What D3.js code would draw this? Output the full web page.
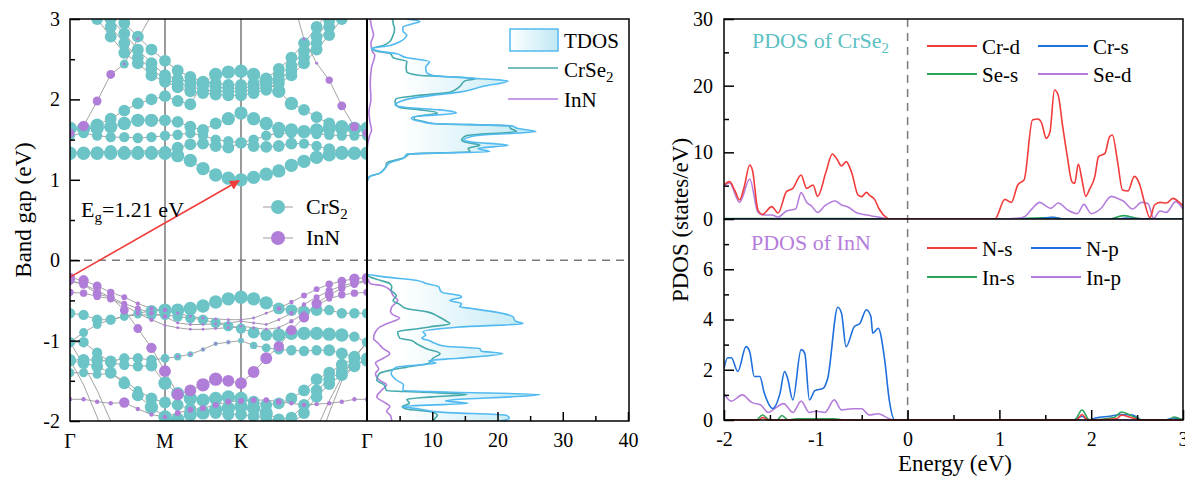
<!DOCTYPE html>
<html>
<head>
<meta charset="utf-8">
<script src="https://cdn.jsdelivr.net/npm/d3@7"></script>
<style>
  body { margin: 0; background: #fff; }
  text { font-family: "Liberation Serif", "Times New Roman", serif; }
</style>
</head>
<body>
<svg id="chart" width="1185" height="478"></svg>
<script>
// ---- band structure data ----
var kLabels = ["Γ", "M", "K", "Γ"];
var kNodes = [0, 7, 13, 23];   // k-point index of each high-symmetry point

// energies (eV) of each band at the 24 k-points
var bandEnergies = [
  [1.33,1.33,1.33,1.33,1.33,1.33,1.33,1.33,1.30,1.24,1.14,1.06,1.02,1.00,1.03,1.07,1.11,1.18,1.23,1.28,1.31,1.33,1.33,1.33],
  [1.33,1.33,1.34,1.36,1.36,1.36,1.36,1.36,1.40,1.44,1.45,1.42,1.40,1.46,1.42,1.41,1.42,1.45,1.45,1.42,1.38,1.35,1.33,1.33],
  [1.55,1.58,1.55,1.53,1.53,1.52,1.53,1.55,1.56,1.58,1.55,1.50,1.48,1.46,1.50,1.55,1.58,1.58,1.58,1.57,1.56,1.55,1.55,1.55],
  [1.64,1.64,1.64,1.66,1.70,1.74,1.74,1.74,1.72,1.66,1.62,1.70,1.76,1.83,1.76,1.70,1.64,1.62,1.60,1.62,1.64,1.64,1.64,1.64],
  [1.64,1.64,1.68,1.76,1.86,1.95,2.00,2.04,1.98,1.94,2.20,2.31,2.34,2.35,2.31,2.24,2.10,1.95,1.87,1.78,1.70,1.66,1.64,1.64],
  [3.40,3.20,3.00,2.78,2.58,2.45,2.30,2.22,2.15,2.10,2.08,2.06,2.05,2.05,2.08,2.12,2.20,2.30,2.45,2.62,2.80,3.00,3.20,3.40],
  [3.50,3.30,3.10,2.90,2.70,2.52,2.38,2.25,2.20,2.16,2.12,2.10,2.10,2.10,2.12,2.16,2.24,2.36,2.52,2.70,2.90,3.10,3.30,3.50],
  [3.60,3.40,3.20,3.00,2.82,2.62,2.45,2.30,2.25,2.22,2.18,2.15,2.14,2.14,2.16,2.20,2.30,2.42,2.60,2.78,2.98,3.20,3.40,3.60],
  [3.70,3.50,3.30,3.10,2.95,2.78,2.62,2.48,2.36,2.28,2.22,2.20,2.18,2.18,2.20,2.26,2.38,2.52,2.70,2.90,3.10,3.30,3.50,3.70],
  [1.58,1.67,1.98,2.31,2.44,2.75,3.05,3.30,3.50,3.50,3.50,3.50,3.50,3.50,3.50,3.50,3.50,3.30,2.75,2.45,2.24,1.92,1.66,1.58],
  [-0.22,-0.25,-0.32,-0.40,-0.46,-0.54,-0.60,-0.62,-0.66,-0.70,-0.72,-0.73,-0.74,-0.74,-0.72,-0.66,-0.60,-0.52,-0.44,-0.36,-0.30,-0.26,-0.23,-0.22],
  [-0.25,-0.30,-0.42,-0.46,-0.54,-0.60,-0.66,-0.70,-0.78,-0.80,-0.80,-0.79,-0.78,-0.76,-0.78,-0.80,-0.74,-0.66,-0.55,-0.46,-0.38,-0.32,-0.28,-0.25],
  [-0.40,-0.41,-0.45,-0.48,-0.56,-0.66,-0.74,-0.81,-0.84,-0.86,-0.86,-0.85,-0.84,-0.82,-0.84,-0.86,-0.84,-0.76,-0.66,-0.56,-0.48,-0.43,-0.41,-0.40],
  [-0.26,-0.30,-0.38,-0.46,-0.62,-0.85,-1.09,-1.38,-1.67,-1.62,-1.55,-1.48,-1.50,-1.53,-1.39,-1.22,-1.07,-0.87,-0.71,-0.54,-0.43,-0.35,-0.30,-0.26],
  [-0.66,-0.68,-0.74,-0.74,-0.70,-0.66,-0.63,-0.62,-0.62,-0.60,-0.57,-0.52,-0.48,-0.46,-0.48,-0.53,-0.60,-0.62,-0.64,-0.62,-0.62,-0.66,-0.66,-0.66],
  [-1.02,-0.90,-0.80,-0.74,-0.70,-0.68,-0.68,-0.68,-0.70,-0.72,-0.74,-0.78,-0.82,-0.85,-0.90,-0.93,-0.93,-0.91,-0.91,-0.91,-0.92,-0.93,-0.95,-1.02],
  [-1.24,-1.24,-1.24,-1.26,-1.22,-1.22,-1.24,-1.22,-1.20,-1.17,-1.11,-1.04,-1.02,-1.00,-1.06,-1.09,-1.11,-1.12,-1.13,-1.12,-1.12,-1.16,-1.20,-1.24],
  [-1.02,-1.02,-1.15,-1.28,-1.30,-1.32,-1.31,-1.53,-1.66,-1.72,-1.74,-1.72,-1.70,-1.72,-1.76,-1.80,-1.78,-1.72,-1.62,-1.48,-1.40,-1.30,-1.22,-1.02],
  [-1.25,-1.28,-1.32,-1.40,-1.53,-1.68,-1.83,-1.95,-1.98,-1.92,-1.90,-1.86,-1.84,-1.82,-1.84,-1.90,-1.98,-1.96,-1.80,-1.62,-1.48,-1.38,-1.30,-1.25],
  [-1.40,-1.40,-1.42,-1.41,-1.50,-1.62,-1.72,-1.77,-1.80,-1.85,-1.88,-1.90,-1.92,-1.92,-1.94,-1.96,-2.00,-2.04,-1.90,-1.70,-1.54,-1.43,-1.32,-1.22],
  [-1.73,-1.73,-1.76,-1.78,-1.77,-1.85,-1.92,-1.95,-1.90,-1.86,-1.84,-1.80,-1.76,-1.75,-1.74,-1.74,-1.76,-1.78,-1.80,-1.79,-1.78,-1.76,-1.73,-1.73],
  [-1.24,-1.55,-1.95,-2.40,-2.80,-3.00,-3.00,-3.00,-3.00,-3.00,-3.00,-3.00,-3.00,-3.00,-3.00,-3.00,-3.00,-3.00,-2.80,-2.35,-1.90,-1.50,-1.30,-1.24],
  [-1.02,-1.30,-1.62,-2.00,-2.40,-2.80,-3.00,-3.00,-3.00,-3.00,-3.00,-3.00,-3.00,-3.00,-3.00,-3.00,-3.00,-2.80,-2.45,-2.10,-1.75,-1.45,-1.20,-1.02]
];
// projected weights (0-9) on CrS2 and InN, one digit per k-point
var weightCrS2 = [
  "999999999999999999999999", "888877778888888888778888", "777777777777777777777777",
  "999999988888999999999999", "999888888899999999888999", "888888888888888888888888",
  "888888888888888888888888", "888888888888888888888888", "888888888888888888888888",
  "000060000000000000000000", "000000000000000000000000", "000000000000000000000000",
  "000000000000000000000000", "000000000000000000000000", "777766899999999988887777",
  "666655777777778899999976", "888877765433345677778888", "777777899999998888888887",
  "888888999999999988888888", "666666888888888888888888", "000000000000000000000000",
  "000000000000000000000000", "000000000000000000000000"
];
var weightInN = [
  "000000000000000000000000", "000000000000000000000000", "000000000000000000000000",
  "000000000000000000000000", "000000000000000000000000", "000000000000000000000000",
  "000000000000000000000000", "000000000000000000000000", "000000000000000000000000",
  "676622100000000001225666", "776543332222222233445677", "666544332222222223345566",
  "555543322222222223344555", "555566788899888877776555", "000000000000000000000000",
  "000000000000000000000000", "000000012222211000000000", "000000000000000000000000",
  "000000000000000000000000", "000000000000000000000000", "333373334444444443333333",
  "000000000000000000000000", "000000000000000000000000"
];
var gapStart = [0, -0.21];   // [k index, E] VBM at Γ
var gapEnd = [13, 1.00];     // CBM at K

// ---- DOS beside the bands: [energy, states] ----
var tdos = [[-2.0,20.5],[-1.97,21.8],[-1.93,21.4],[-1.89,11.2],[-1.85,8],[-1.82,5.4],[-1.78,15.5],[-1.75,12],[-1.73,14.2],[-1.70,22],[-1.67,26.5],[-1.64,12],[-1.62,5.5],[-1.55,5.6],[-1.49,4.5],[-1.41,3.7],[-1.36,4.0],[-1.33,4.5],[-1.28,10.6],[-1.25,9.5],[-1.22,14],[-1.16,20.8],[-1.13,17.5],[-1.10,17.3],[-1.07,12],[-1.04,10.6],[-1.00,9.5],[-0.97,8.4],[-0.93,9.0],[-0.89,8.6],[-0.85,11.5],[-0.83,14.2],[-0.79,23.9],[-0.76,22.8],[-0.70,22.3],[-0.64,19.3],[-0.60,16],[-0.58,14.2],[-0.54,14.5],[-0.50,12.7],[-0.46,14.5],[-0.44,14.2],[-0.40,11.5],[-0.37,11.2],[-0.33,11.0],[-0.29,9.1],[-0.25,7.5],[-0.21,3.0],[-0.17,0],
  [0.97,0],[1.04,0.4],[1.08,1.9],[1.12,2.5],[1.16,2.9],[1.21,3.5],[1.27,5.6],[1.32,6.1],[1.35,18.8],[1.39,17],[1.43,21.6],[1.47,16],[1.49,14.8],[1.55,16.8],[1.60,25.9],[1.64,23],[1.67,22.3],[1.70,10],[1.72,8.6],[1.76,6.8],[1.78,7.0],[1.83,13.7],[1.87,11.2],[1.90,6],[1.93,4.3],[1.97,5],[2.01,6.6],[2.05,10],[2.09,14.2],[2.16,17.7],[2.23,21.6],[2.26,16.8],[2.30,10],[2.34,9.1],[2.40,9.0],[2.47,9.6],[2.52,6],[2.57,4.4],[2.60,2],[2.63,0.7],[2.67,3.5],[2.72,5.1],[2.76,5.8],[2.80,6.1],[2.85,5.5],[2.90,5.5],[2.94,7],[2.97,8.1],[3.0,6]];
var dosCrSe2 = [[-2.0,10.1],[-1.96,10.5],[-1.93,10.8],[-1.89,10.1],[-1.85,6],[-1.82,5.4],[-1.78,6.5],[-1.73,6.1],[-1.70,10],[-1.67,15.3],[-1.64,8],[-1.62,3],[-1.55,2.6],[-1.49,1.5],[-1.41,1.9],[-1.37,3.5],[-1.33,6.1],[-1.28,9.5],[-1.22,10.1],[-1.16,11.2],[-1.10,9.1],[-1.04,7.6],[-1.00,6.8],[-0.97,5.0],[-0.89,4.7],[-0.85,8],[-0.83,9.6],[-0.79,12.7],[-0.75,12],[-0.70,10.9],[-0.64,9.1],[-0.60,6],[-0.55,5],[-0.50,4.0],[-0.44,4.5],[-0.37,3.7],[-0.33,3.8],[-0.29,3.5],[-0.25,2.0],[-0.21,0.5],[-0.17,0],
  [0.96,0],[1.04,0.4],[1.08,1.9],[1.12,2.5],[1.16,2.9],[1.21,3.0],[1.27,5.6],[1.32,6.6],[1.35,15.8],[1.39,15.5],[1.43,17.3],[1.47,15],[1.49,14.5],[1.55,15.3],[1.60,22.9],[1.64,22],[1.67,21.8],[1.70,10],[1.72,9],[1.76,7.2],[1.78,7.2],[1.83,10.8],[1.87,8.2],[1.90,5],[1.93,4.5],[1.97,4.3],[2.01,4.5],[2.05,8],[2.09,12.7],[2.16,14.2],[2.23,15],[2.26,16.8],[2.30,8],[2.34,6.1],[2.40,6.0],[2.47,6.1],[2.52,4],[2.57,3.6],[2.60,1.5],[2.63,0.7],[2.67,2.5],[2.72,3.5],[2.76,3.8],[2.80,4.0],[2.85,4.2],[2.90,4.2],[2.94,4.0],[2.97,4.0],[3.0,3.8]];
var dosInN = [[-2.0,3.8],[-1.93,3.6],[-1.88,3.0],[-1.82,3.5],[-1.76,2.5],[-1.70,1.5],[-1.62,2.2],[-1.55,3.0],[-1.49,1.9],[-1.41,1.3],[-1.35,1.8],[-1.28,1.3],[-1.22,2.5],[-1.16,3.5],[-1.10,2.5],[-1.04,1.8],[-0.97,1.0],[-0.89,1.3],[-0.83,2.0],[-0.79,3.0],[-0.72,5.0],[-0.68,4.0],[-0.64,3.6],[-0.58,3.8],[-0.50,4.7],[-0.44,4.0],[-0.37,3.5],[-0.32,2.5],[-0.29,0.5],[-0.25,0.2],[-0.20,0],
  [1.35,0],[1.55,0.4],[1.62,0.7],[1.70,0.5],[1.85,0.3],[2.0,0.6],[2.2,0.5],[2.4,0.7],[2.55,1.2],[2.6,0.8],[2.7,0.6],[2.8,1.0],[2.9,0.7],[3.0,0.5]];

// ---- PDOS, right panel: [energy, states/eV] ----
var pdosCrD = [[-2.0,5.1],[-1.94,5.6],[-1.88,4.2],[-1.83,2.85],[-1.78,4.8],[-1.72,8.1],[-1.69,7.3],[-1.63,1.35],[-1.58,0.7],[-1.48,1.85],[-1.41,0.9],[-1.32,4.1],[-1.25,4.6],[-1.16,6.6],[-1.10,4.6],[-1.03,5.1],[-0.98,3.4],[-0.89,7.0],[-0.82,9.75],[-0.77,9.0],[-0.72,7.95],[-0.67,8.6],[-0.61,7.0],[-0.54,3.6],[-0.50,3.35],[-0.45,4.0],[-0.41,3.5],[-0.36,2.95],[-0.31,1.5],[-0.23,0.2],[-0.2,0],
  [0.95,0],[1.06,2.95],[1.13,2.5],[1.20,5.1],[1.27,5.9],[1.36,14.85],[1.42,15],[1.46,14.4],[1.51,12.1],[1.55,13.0],[1.60,19.35],[1.64,18.6],[1.69,13.85],[1.74,9.35],[1.79,5.6],[1.82,5.35],[1.86,8.25],[1.90,5.85],[1.94,3.4],[1.98,4.4],[2.04,6.4],[2.08,9.35],[2.15,9.85],[2.20,12.35],[2.23,12.6],[2.29,8.35],[2.34,4.35],[2.40,4.2],[2.47,6.4],[2.53,5.1],[2.58,2.5],[2.64,0.2],[2.69,2.1],[2.75,2.5],[2.82,2.4],[2.89,3.1],[2.96,2.5],[3.0,2.0]];
var pdosCrS = [[-2,0],[1.4,0],[1.58,0.25],[1.7,0],[2.3,0],[2.38,0.15],[2.5,0],[3,0]];
var pdosSeS = [[-2,0.05],[-0.6,0.05],[-0.4,0],[1.0,0],[1.6,0.2],[1.7,0],[2.2,0],[2.35,0.5],[2.5,0.1],[2.6,0],[3,0]];
var pdosSeD = [[-2.0,5.0],[-1.94,5.4],[-1.83,2.5],[-1.72,6.0],[-1.63,1.0],[-1.58,0.6],[-1.48,0.6],[-1.41,0.3],[-1.32,1.2],[-1.22,1.5],[-1.16,3.95],[-1.10,2.5],[-1.05,2.0],[-0.98,1.0],[-0.90,2.0],[-0.79,2.7],[-0.72,2.1],[-0.65,1.8],[-0.55,0.9],[-0.40,0.5],[-0.25,0.1],[-0.2,0],
  [1.0,0],[1.2,0.1],[1.28,0.4],[1.36,1.6],[1.44,2.5],[1.50,2.0],[1.56,1.6],[1.64,2.4],[1.75,1.3],[1.85,0.8],[1.92,2.2],[2.0,0.8],[2.1,1.5],[2.22,3.4],[2.30,3.0],[2.35,2.7],[2.45,1.5],[2.55,2.5],[2.62,2.3],[2.68,0.1],[2.75,1.2],[2.82,1.0],[2.92,2.6],[3.0,1.5]];
var pdosNS = [[-2,0],[-1.62,0],[-1.58,0.1],[-1.52,0],[1.84,0],[1.9,0.22],[1.96,0],[2.28,0.05],[2.33,0.2],[2.45,0.08],[2.55,0],[3,0]];
var pdosNP = [[-2.0,2.06],[-1.96,2.48],[-1.92,2.48],[-1.85,1.93],[-1.76,2.92],[-1.72,2.72],[-1.67,1.73],[-1.61,1.73],[-1.56,1.06],[-1.47,0.46],[-1.39,1.06],[-1.34,1.93],[-1.31,1.7],[-1.25,0.8],[-1.16,2.8],[-1.12,2.65],[-1.07,0.8],[-1.01,1.17],[-0.92,1.26],[-0.87,1.66],[-0.76,4.49],[-0.72,4.25],[-0.67,2.92],[-0.58,3.72],[-0.52,3.84],[-0.45,4.39],[-0.40,4.12],[-0.38,3.45],[-0.32,3.65],[-0.25,2.4],[-0.20,0.8],[-0.14,0],
  [1.8,0],[1.9,0.15],[1.97,0],[2.05,0.08],[2.2,0.15],[2.33,0.22],[2.45,0.2],[2.55,0],[2.8,0],[2.9,0.08],[3.0,0]];
var pdosInS = [[-2,0],[-1.65,0],[-1.58,0.2],[-1.5,0],[-1.42,0],[-1.37,0.18],[-1.3,0],[-1.2,0.05],[-0.8,0.05],[-0.7,0],[1.82,0],[1.9,0.4],[1.98,0],[2.25,0.1],[2.33,0.32],[2.45,0.15],[2.55,0],[2.85,0],[2.9,0.12],[3,0]];
var pdosInP = [[-2.0,1.05],[-1.92,0.75],[-1.8,1.0],[-1.7,0.7],[-1.6,0.6],[-1.52,0.3],[-1.45,0.45],[-1.35,0.65],[-1.25,0.3],[-1.16,0.75],[-1.07,0.3],[-1.0,0.35],[-0.9,0.3],[-0.8,0.8],[-0.72,0.4],[-0.6,0.45],[-0.5,0.45],[-0.42,0.2],[-0.32,0.25],[-0.2,0.05],[-0.15,0],[3,0]];

var bandTicks = [-2, -1, 0, 1, 2, 3];
var dosTicks = [10, 20, 30, 40];
var energyTicks = [-2, -1, 0, 1, 2, 3];
var topTicks = [0, 10, 20, 30];
var botTicks = [0, 2, 4, 6];

var C_CYAN = "#6cc4c7", C_PURP = "#b07ed8", C_TEAL = "#46a9aa", C_BLUE = "#52baf0";
var C_RED = "#f23b3b", C_DBLUE = "#1f6fdc", C_GREEN = "#2ca35a", C_LAV = "#b57edc";
var FS = 22, FT = 20;   // label / tick font sizes

var svg = d3.select("#chart");
var defs = svg.append("defs");

// ================= left: bands + DOS =================
var L = {left: 70, mid: 367, right: 629, top: 19, bottom: 421};
var xk = d3.scaleLinear().domain(kNodes).range([70, 165, 241, 367]);
var yE = d3.scaleLinear().domain([-2, 3]).range([L.bottom, L.top]);
var xd = d3.scaleLinear().domain([0, 40]).range([L.mid, 628]);

defs.append("clipPath").attr("id", "clipBand").append("rect")
    .attr("x", L.left).attr("y", L.top).attr("width", L.mid - L.left).attr("height", L.bottom - L.top);
defs.append("clipPath").attr("id", "clipDos").append("rect")
    .attr("x", L.mid).attr("y", L.top).attr("width", L.right - L.mid).attr("height", L.bottom - L.top);

// high symmetry lines
svg.append("g").selectAll("line").data(kNodes.slice(1, 3)).enter().append("line")
    .attr("x1", function(d) { return xk(d); }).attr("x2", function(d) { return xk(d); })
    .attr("y1", L.top).attr("y2", L.bottom)
    .attr("stroke", "#9a9a9a").attr("stroke-width", 2);

var bands = bandEnergies.map(function(e, b) {
  return e.map(function(v, i) {
    return {k: i, e: v, c: +(weightCrS2[b][i] || 0), n: +(weightInN[b][i] || 0)};
  });
});

var gb = svg.append("g").attr("clip-path", "url(#clipBand)");
var bandLine = d3.line().x(function(d) { return xk(d.k); }).y(function(d) { return yE(d.e); });
gb.selectAll(".band").data(bands).enter().append("path")
    .attr("d", bandLine).attr("fill", "none").attr("stroke", "#999").attr("stroke-width", 0.9);

var pts = [].concat.apply([], bands);
gb.selectAll(".cr").data(pts.filter(function(d) { return d.c > 0; })).enter().append("circle")
    .attr("cx", function(d) { return xk(d.k); }).attr("cy", function(d) { return yE(d.e); })
    .attr("r", function(d) { return d.c * 0.74; }).attr("fill", C_CYAN);
gb.selectAll(".in").data(pts.filter(function(d) { return d.n > 0; })).enter().append("circle")
    .attr("cx", function(d) { return xk(d.k); }).attr("cy", function(d) { return yE(d.e); })
    .attr("r", function(d) { return d.n * 0.74; }).attr("fill", C_PURP);

// Fermi level
svg.append("line").attr("x1", L.left).attr("x2", L.right).attr("y1", yE(0)).attr("y2", yE(0))
    .attr("stroke", "#7a7a7a").attr("stroke-width", 1.5).attr("stroke-dasharray", "8,6");

// gap arrow
defs.append("marker").attr("id", "arr").attr("viewBox", "0 0 10 10").attr("refX", 9).attr("refY", 5)
    .attr("markerWidth", 10).attr("markerHeight", 10).attr("markerUnits", "userSpaceOnUse").attr("orient", "auto")
  .append("path").attr("d", "M0,0L10,5L0,10z").attr("fill", C_RED);
svg.append("line")
    .attr("x1", xk(gapStart[0])).attr("y1", yE(gapStart[1]))
    .attr("x2", xk(gapEnd[0]) - 2).attr("y2", yE(gapEnd[1]) + 1)
    .attr("stroke", C_RED).attr("stroke-width", 1.6).attr("marker-end", "url(#arr)");

var eg = svg.append("text").attr("x", 81).attr("y", 217).attr("font-size", FS);
eg.append("tspan").text("E");
eg.append("tspan").attr("font-size", 15).attr("dy", 5).text("g");
eg.append("tspan").attr("dy", -5).text("=1.21 eV");

// band legend
var bl = svg.append("g");
[["CrS", C_CYAN, 207], ["InN", C_PURP, 238]].forEach(function(r, i) {
  bl.append("line").attr("x1", 263).attr("x2", 293).attr("y1", r[2]).attr("y2", r[2])
      .attr("stroke", "#9c9c9c").attr("stroke-width", 1);
  bl.append("circle").attr("cx", 278).attr("cy", r[2]).attr("r", 7).attr("fill", r[1]);
  var t = bl.append("text").attr("x", 306).attr("y", r[2] + 7).attr("font-size", FS).text(r[0]);
  if (i == 0) t.append("tspan").attr("font-size", 15).attr("dy", 5).text("2");
});

// DOS gradient fill
var grad = defs.append("linearGradient").attr("id", "dosGrad").attr("gradientUnits", "userSpaceOnUse")
    .attr("x1", xd(5)).attr("x2", xd(26)).attr("y1", 0).attr("y2", 0);
grad.append("stop").attr("offset", "0%").attr("stop-color", "#ffffff");
grad.append("stop").attr("offset", "100%").attr("stop-color", "#bfe8f3");
var grad2 = defs.append("linearGradient").attr("id", "legGrad");
grad2.append("stop").attr("offset", "0%").attr("stop-color", "#ffffff");
grad2.append("stop").attr("offset", "100%").attr("stop-color", "#bfe8f3");

var gd = svg.append("g").attr("clip-path", "url(#clipDos)");
var dosArea = d3.area().curve(d3.curveMonotoneY)
    .y(function(d) { return yE(d[0]); }).x0(xd(0)).x1(function(d) { return xd(d[1]); });
var dosLine = d3.line().curve(d3.curveMonotoneY)
    .y(function(d) { return yE(d[0]); }).x(function(d) { return xd(d[1]); });
gd.append("path").datum(tdos).attr("d", dosArea).attr("fill", "url(#dosGrad)");
gd.append("path").datum(dosInN).attr("d", dosLine).attr("fill", "none").attr("stroke", C_LAV).attr("stroke-width", 1.6);
gd.append("path").datum(dosCrSe2).attr("d", dosLine).attr("fill", "none").attr("stroke", C_TEAL).attr("stroke-width", 1.6);
gd.append("path").datum(tdos).attr("d", dosLine).attr("fill", "none").attr("stroke", C_BLUE).attr("stroke-width", 1.6);

// DOS legend
var dl = svg.append("g");
dl.append("rect").attr("x", 510).attr("y", 29).attr("width", 48).attr("height", 22)
    .attr("fill", "url(#legGrad)").attr("stroke", C_BLUE).attr("stroke-width", 1.5);
dl.append("text").attr("x", 564).attr("y", 48).attr("font-size", FS - 1).text("TDOS");
dl.append("line").attr("x1", 508).attr("x2", 558).attr("y1", 68).attr("y2", 68).attr("stroke", C_TEAL).attr("stroke-width", 1.6);
var ct = dl.append("text").attr("x", 564).attr("y", 77).attr("font-size", FS - 1).text("CrSe");
ct.append("tspan").attr("font-size", 15).attr("dy", 5).text("2");
dl.append("line").attr("x1", 508).attr("x2", 558).attr("y1", 99).attr("y2", 99).attr("stroke", C_LAV).attr("stroke-width", 1.6);
dl.append("text").attr("x", 564).attr("y", 107).attr("font-size", FS - 1).text("InN");

// frame and axes of left panel
svg.append("rect").attr("x", L.left).attr("y", L.top).attr("width", L.right - L.left).attr("height", L.bottom - L.top)
    .attr("fill", "none").attr("stroke", "#000").attr("stroke-width", 1.5);
svg.append("line").attr("x1", L.mid).attr("x2", L.mid).attr("y1", L.top).attr("y2", L.bottom)
    .attr("stroke", "#000").attr("stroke-width", 2);

function styleAxis(g) {
  g.select(".domain").remove();
  g.selectAll("line").attr("stroke", "#000").attr("stroke-width", 1.5);
  g.selectAll("text").attr("font-size", FT).attr("fill", "#000")
      .attr("font-family", "'Liberation Serif','Times New Roman',serif");
}
var fmt = function(d) { return String(d); };

svg.append("g").attr("transform", "translate(" + L.left + ",0)")
    .call(d3.axisLeft(yE).tickValues(bandTicks).tickSize(-10).tickPadding(10).tickFormat(fmt)).call(styleAxis);
svg.append("g").attr("transform", "translate(" + L.left + ",0)")
    .call(d3.axisLeft(yE).tickValues([-1.5, -0.5, 0.5, 1.5, 2.5]).tickSize(-5).tickFormat("")).call(styleAxis);
svg.append("g").attr("transform", "translate(0," + L.bottom + ")")
    .call(d3.axisBottom(xd).tickValues(dosTicks).tickSize(-9).tickPadding(12).tickFormat(fmt)).call(styleAxis);
svg.append("g").attr("transform", "translate(0," + L.bottom + ")")
    .call(d3.axisBottom(xd).tickValues([5, 15, 25, 35]).tickSize(-5).tickFormat("")).call(styleAxis);

svg.append("g").selectAll("text").data(kNodes).enter().append("text")
    .attr("x", function(d) { return xk(d); }).attr("y", 448)
    .attr("text-anchor", "middle").attr("font-size", FT).text(function(d, i) { return kLabels[i]; });

svg.append("text").attr("transform", "translate(31,210) rotate(-90)")
    .attr("text-anchor", "middle").attr("font-size", 23).text("Band gap (eV)");

// ================= right: PDOS =================
var R = {left: 724, right: 1183, top: 19, mid: 219, bottom: 420};
var xe = d3.scaleLinear().domain([-2, 3]).range([R.left, R.right]);
var yTop = d3.scaleLinear().domain([0, 30]).range([R.mid, R.top]);
var yBot = d3.scaleLinear().domain([0, 8]).range([R.bottom, R.mid]);

defs.append("clipPath").attr("id", "clipTop").append("rect")
    .attr("x", R.left).attr("y", R.top - 1).attr("width", R.right - R.left).attr("height", R.mid - R.top + 1);
defs.append("clipPath").attr("id", "clipBot").append("rect")
    .attr("x", R.left).attr("y", R.mid).attr("width", R.right - R.left).attr("height", R.bottom - R.mid + 1);

svg.append("line").attr("x1", xe(0)).attr("x2", xe(0)).attr("y1", R.top).attr("y2", R.bottom)
    .attr("stroke", "#7a7a7a").attr("stroke-width", 1.5).attr("stroke-dasharray", "8,6");

function drawSeries(clip, yScale, list) {
  var g = svg.append("g").attr("clip-path", "url(#" + clip + ")");
  var line = d3.line().curve(d3.curveMonotoneX)
      .x(function(d) { return xe(d[0]); }).y(function(d) { return yScale(d[1]); });
  list.forEach(function(s) {
    g.append("path").datum(s[0]).attr("d", line).attr("fill", "none")
        .attr("stroke", s[1]).attr("stroke-width", 1.6);
  });
}
drawSeries("clipTop", yTop, [[pdosSeS, C_GREEN], [pdosCrS, C_DBLUE], [pdosSeD, C_LAV], [pdosCrD, C_RED]]);
drawSeries("clipBot", yBot, [[pdosInP, C_LAV], [pdosNP, C_DBLUE], [pdosInS, C_GREEN], [pdosNS, C_RED]]);

// frames
svg.append("rect").attr("x", R.left).attr("y", R.top).attr("width", R.right - R.left).attr("height", R.bottom - R.top)
    .attr("fill", "none").attr("stroke", "#000").attr("stroke-width", 1.5);
svg.append("line").attr("x1", R.left).attr("x2", R.right).attr("y1", R.mid).attr("y2", R.mid)
    .attr("stroke", "#000").attr("stroke-width", 1.5);

svg.append("g").attr("transform", "translate(" + R.left + ",0)")
    .call(d3.axisLeft(yTop).tickValues(topTicks).tickSize(-10).tickPadding(11).tickFormat(fmt)).call(styleAxis);
svg.append("g").attr("transform", "translate(" + R.left + ",0)")
    .call(d3.axisLeft(yTop).tickValues([5, 15, 25]).tickSize(-5).tickFormat("")).call(styleAxis);
svg.append("g").attr("transform", "translate(" + R.left + ",0)")
    .call(d3.axisLeft(yBot).tickValues(botTicks).tickSize(-10).tickPadding(11).tickFormat(fmt)).call(styleAxis);
svg.append("g").attr("transform", "translate(" + R.left + ",0)")
    .call(d3.axisLeft(yBot).tickValues([1, 3, 5, 7]).tickSize(-5).tickFormat("")).call(styleAxis);
svg.append("g").attr("transform", "translate(0," + R.bottom + ")")
    .call(d3.axisBottom(xe).tickValues(energyTicks).tickSize(-10).tickPadding(12).tickFormat(fmt)).call(styleAxis);
svg.append("g").attr("transform", "translate(0," + R.bottom + ")")
    .call(d3.axisBottom(xe).tickValues([-1.5, -0.5, 0.5, 1.5, 2.5]).tickSize(-5).tickFormat("")).call(styleAxis);

svg.append("text").attr("transform", "translate(688,220) rotate(-90)")
    .attr("text-anchor", "middle").attr("font-size", 23).text("PDOS (states/eV)");
svg.append("text").attr("x", 955).attr("y", 471).attr("text-anchor", "middle")
    .attr("font-size", 23).text("Energy (eV)");

var t1 = svg.append("text").attr("x", 752).attr("y", 48).attr("font-size", FS).attr("fill", "#5cc0c3").text("PDOS of CrSe");
t1.append("tspan").attr("font-size", 15).attr("dy", 5).text("2");
svg.append("text").attr("x", 751).attr("y", 250).attr("font-size", FS).attr("fill", C_LAV).text("PDOS of InN");

// PDOS legends
function legendRows(rows) {
  rows.forEach(function(r) {
    svg.append("line").attr("x1", r[1]).attr("x2", r[1] + 50).attr("y1", r[2]).attr("y2", r[2])
        .attr("stroke", r[3]).attr("stroke-width", 1.8);
    svg.append("text").attr("x", r[1] + 55).attr("y", r[2] + 8).attr("font-size", FS - 1).text(r[0]);
  });
}
legendRows([["Cr-d", 927, 46, C_RED], ["Cr-s", 1038, 46, C_DBLUE], ["Se-s", 927, 74, C_GREEN], ["Se-d", 1038, 74, C_LAV]]);
legendRows([["N-s", 927, 248, C_RED], ["N-p", 1031, 248, C_DBLUE], ["In-s", 927, 277, C_GREEN], ["In-p", 1031, 277, C_LAV]]);
</script>
</body>
</html>
